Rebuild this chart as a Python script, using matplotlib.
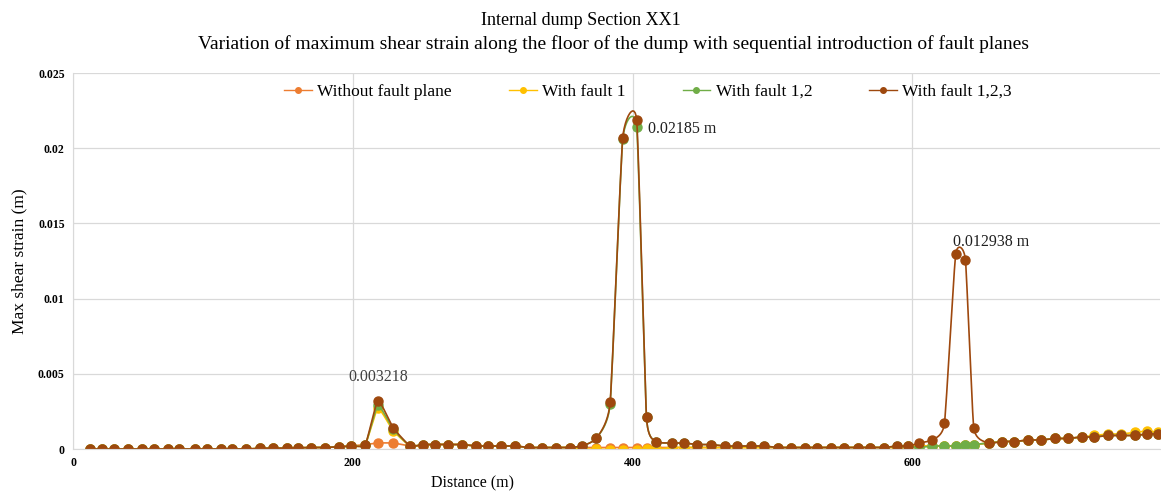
import numpy as np
import matplotlib.pyplot as plt

plt.rcParams['font.family'] = ['Liberation Serif', 'DejaVu Serif']

# distance along the dump floor (m)
distance = [12, 21, 29, 39, 49, 58, 68, 76, 87, 96,
            106, 114, 124, 134, 143, 153, 161, 170, 180, 190,
            199, 209, 218, 229, 241, 250, 259, 268, 278, 288,
            297, 306, 316, 326, 335, 345, 355, 364, 374, 384,
            393, 403, 410, 417, 428, 437, 446, 456, 466, 475,
            485, 494, 504, 513, 523, 532, 542, 551, 561, 570,
            580, 589, 597, 605, 614, 623, 631, 638, 644, 655,
            664, 673, 683, 692, 702, 711, 721, 730, 740, 749,
            759, 768, 776]

no_fault = [0.0, 0.0, 0.0, 0.0, 0.0, 0.0, 0.0, 0.0, 0.0, 0.0,
            0.0, 0.0, 0.0, 0.00005, 0.00005, 0.00005, 0.00008, 0.0001, 0.0001, 0.00015,
            0.0002, 0.0003, 0.0004, 0.0004, 0.0002, 0.0002, 0.0003, 0.0003, 0.0003, 0.0002,
            0.0002, 0.0002, 0.0002, 0.0001, 0.0001, 0.0001, 0.0001, 0.0001, 0.0001, 0.0001,
            0.0001, 0.0001, 0.0001, 0.0001, 0.0001, 0.0001, 0.0001, 0.0001, 0.0001, 0.0001,
            0.0001, 0.0001, 0.0001, 0.0001, 0.0001, 0.0001, 0.0001, 0.0001, 0.0001, 0.0001,
            0.0001, 0.0001, 0.0002, 0.0002, 0.0002, 0.0002, 0.0002, 0.0003, 0.0003, 0.0004,
            0.0005, 0.0005, 0.0006, 0.0006, 0.0007, 0.0007, 0.0008, 0.0008, 0.0009, 0.0009,
            0.0009, 0.001, 0.001]

fault_1 = [0.0, 0.0, 0.0, 0.0, 0.0, 0.0, 0.0, 0.0, 0.0, 0.0,
           0.0, 0.0, 0.0, 0.00005, 0.00005, 0.00005, 0.00008, 0.0001, 0.0001, 0.00015,
           0.0002, 0.0003, 0.0027, 0.0012, 0.0002, 0.0003, 0.0003, 0.0003, 0.0003, 0.0002,
           0.0002, 0.0002, 0.0002, 0.0001, 0.0001, 0.0001, 0.0001, 0.0, 0.0, -0.00005,
           -0.00005, -0.00005, 0.0, 0.0, 0.0001, 0.0001, 0.0001, 0.0001, 0.0001, 0.0001,
           0.0001, 0.0001, 0.0001, 0.0001, 0.0001, 0.0001, 0.0001, 0.0001, 0.0001, 0.0001,
           0.0001, 0.0001, 0.0002, 0.0002, 0.0002, 0.0002, 0.0002, 0.0003, 0.0003, 0.0004,
           0.0005, 0.0005, 0.0006, 0.0006, 0.0007, 0.0007, 0.0008, 0.0009, 0.001, 0.001,
           0.0011, 0.0012, 0.0011]

fault_12 = [0.0, 0.0, 0.0, 0.0, 0.0, 0.0, 0.0, 0.0, 0.0, 0.0,
            0.0, 0.0, 0.0, 0.00005, 0.00005, 0.00005, 0.00008, 0.0001, 0.0001, 0.00015,
            0.0002, 0.0003, 0.0029, 0.0013, 0.0002, 0.0003, 0.0003, 0.0003, 0.0003, 0.0002,
            0.0002, 0.0002, 0.0002, 0.0001, 0.0001, 0.0001, 0.0001, 0.0002, 0.0007, 0.003,
            0.0206, 0.0214, 0.0021, 0.0005, 0.0004, 0.0004, 0.0003, 0.0003, 0.0002, 0.0002,
            0.0002, 0.0002, 0.0001, 0.0001, 0.0001, 0.0001, 0.0001, 0.0001, 0.0001, 0.0001,
            0.0001, 0.0002, 0.0002, 0.0001, 0.0002, 0.0002, 0.0002, 0.0003, 0.0003, 0.0004,
            0.0005, 0.0005, 0.0006, 0.0006, 0.0007, 0.0007, 0.0008, 0.0008, 0.0009, 0.0009,
            0.0009, 0.001, 0.001]

fault_123 = [0.0, 0.0, 0.0, 0.0, 0.0, 0.0, 0.0, 0.0, 0.0, 0.0,
             0.0, 0.0, 0.0, 0.00005, 0.00005, 0.00005, 0.00008, 0.0001, 0.0001, 0.00015,
             0.0002, 0.0003, 0.003218, 0.0014, 0.0002, 0.0003, 0.0003, 0.0003, 0.0003, 0.0002,
             0.0002, 0.0002, 0.0002, 0.0001, 0.0001, 0.0001, 0.0001, 0.0002, 0.0007, 0.0031,
             0.0207, 0.02185, 0.0021, 0.0005, 0.0004, 0.0004, 0.0003, 0.0003, 0.0002, 0.0002,
             0.0002, 0.0002, 0.0001, 0.0001, 0.0001, 0.0001, 0.0001, 0.0001, 0.0001, 0.0001,
             0.0001, 0.0002, 0.0002, 0.0004, 0.0006, 0.0017, 0.012938, 0.0126, 0.0014, 0.0004,
             0.0005, 0.0005, 0.0006, 0.0006, 0.0007, 0.0007, 0.0008, 0.0008, 0.0009, 0.0009,
             0.0009, 0.001, 0.001]

series = [("Without fault plane", no_fault, "#ED7D31"),
          ("With fault 1", fault_1, "#FFC000"),
          ("With fault 1,2", fault_12, "#70AD47"),
          ("With fault 1,2,3", fault_123, "#9E480E")]


def smooth(x, y, n=12, c=0.45):
    # cardinal spline through the points (close to Excel's smoothed line)
    x = np.asarray(x, float)
    y = np.asarray(y, float)
    t = np.linspace(0, 1, n, endpoint=False)
    h00 = 2 * t**3 - 3 * t**2 + 1
    h10 = t**3 - 2 * t**2 + t
    h01 = -2 * t**3 + 3 * t**2
    h11 = t**3 - t**2
    xs, ys = [], []
    for p, out in ((x, xs), (y, ys)):
        pp = np.concatenate([[p[0]], p, [p[-1]]])
        m = c * (pp[2:] - pp[:-2]) / 2
        for i in range(len(p) - 1):
            out.extend(h00 * p[i] + h10 * m[i] + h01 * p[i + 1] + h11 * m[i + 1])
        out.append(p[-1])
    return xs, ys


fig = plt.figure(figsize=(11.61, 4.91), dpi=100)
ax = fig.add_axes([0.0629, 0.0855, 0.9361, 0.7657])

for label, vals, color in series:
    sx, sy = smooth(distance, vals)
    ax.plot(sx, sy, color=color, lw=1.2)
    ax.plot(distance, vals, 'o', color=color, ms=6.5, mec=color)
    ax.plot([], [], '-o', color=color, lw=1, ms=4, label=label)

ax.annotate("0.003218", (218, 0.003218), xytext=(0, 11), textcoords='offset points',
            ha='center', va='bottom', fontsize=11.5, color='#404040')
ax.annotate("0.02185 m", (403, 0.02185), xytext=(8, -6), textcoords='offset points',
            ha='left', va='center', fontsize=11.5, color='#202020')
ax.annotate("0.012938 m", (631, 0.012938), xytext=(-2, 9), textcoords='offset points',
            ha='left', va='center', fontsize=11.5, color='#202020')

ax.set_xlim(0, 777)
ax.set_ylim(0, 0.025)
ax.set_xticks([0, 200, 400, 600])
ax.set_yticks([0, 0.005, 0.01, 0.015, 0.02, 0.025])
ax.set_yticklabels(["0", "0.005", "0.01", "0.015", "0.02", "0.025"])
ax.tick_params(length=0, labelsize=8.5, pad=6)
for lab in ax.get_xticklabels() + ax.get_yticklabels():
    lab.set_fontweight('bold')
ax.grid(True, color='#D9D9D9', lw=0.9)
ax.set_axisbelow(True)
for s in ['top', 'right']:
    ax.spines[s].set_visible(False)
ax.spines['left'].set_color('#D9D9D9')
ax.spines['bottom'].set_color('#D9D9D9')

ax.set_xlabel("Distance (m)", fontsize=11.5)
ax.xaxis.set_label_coords(0.368, -0.07)
ax.set_ylabel("Max shear strain (m)", fontsize=12.5)
ax.yaxis.set_label_coords(-0.042, 0.5)

fig.text(0.5, 0.958, "Internal dump Section XX1", ha='center', va='center', fontsize=13)
fig.text(0.528, 0.91, "Variation of maximum shear strain along the floor of the dump with sequential introduction of fault planes",
         ha='center', va='center', fontsize=14)

ax.legend(loc='center', bbox_to_anchor=(0.529, 0.95), ncol=4, frameon=False,
          fontsize=12.5, columnspacing=3.3, handlelength=1.6, handletextpad=0.3)

fig.savefig("out.png", dpi=100)
